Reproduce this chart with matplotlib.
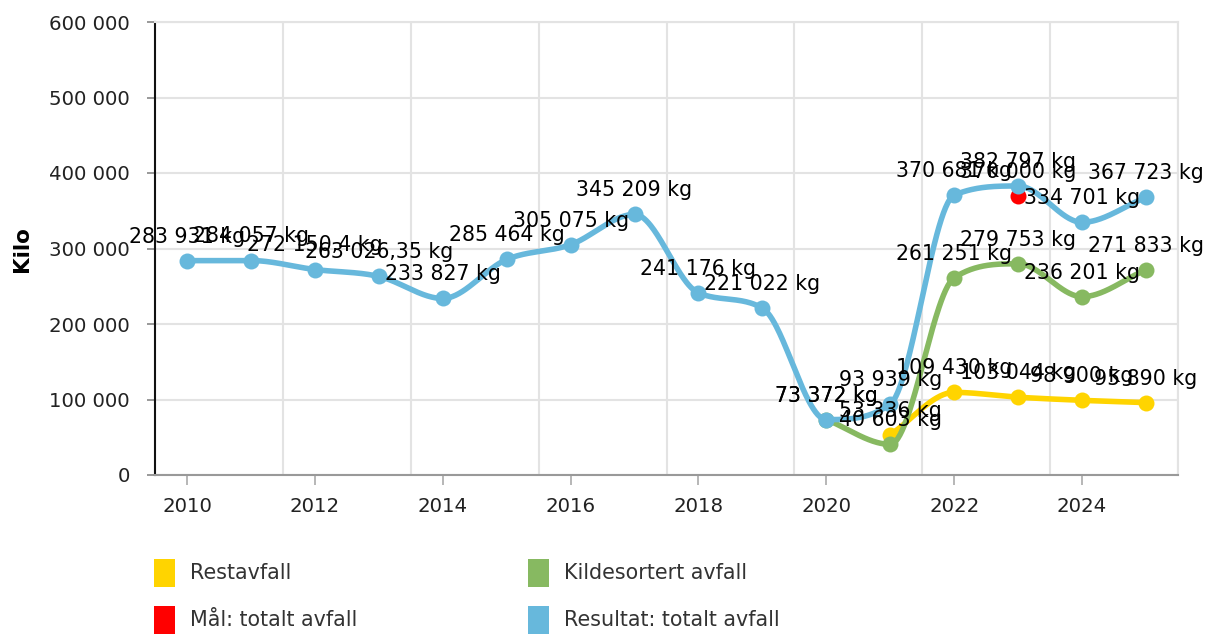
import numpy as np
import matplotlib
matplotlib.use("Agg")
import matplotlib.pyplot as plt
from matplotlib.patches import Rectangle

# data
years = list(range(2010, 2026))
resultat = [283931, 284057, 272150.4, 263026.35, 233827, 285464, 305075, 345209,
            241176, 221022, 73372, 93939, 370681, 382797, 334701, 367723]
kilde_years = [2020, 2021, 2022, 2023, 2024, 2025]
kildesortert = [73372, 40603, 261251, 279753, 236201, 271833]
rest_years = [2021, 2022, 2023, 2024, 2025]
restavfall = [53336, 109430, 103044, 98900, 95890]
maal_years = [2023]
maal = [370000]

legend_names = ["Restavfall", "Kildesortert avfall", "Mål: totalt avfall", "Resultat: totalt avfall"]
c_rest = "#ffd400"
c_kilde = "#87b961"
c_maal = "#ff0000"
c_res = "#67b8dc"


def fmt_kg(v):
    s = f"{v:,.2f}".rstrip("0").rstrip(".")
    return s.replace(",", " ").replace(".", ",") + " kg"


def monotone_curve(xs, ys, steps=60):
    """Monotone cubic (Fritsch-Carlson) line shape between the data points."""
    x = np.asarray(xs, float)
    y = np.asarray(ys, float)
    n = len(x)
    d = np.diff(y) / np.diff(x)
    m = np.zeros(n)
    m[0], m[-1] = d[0], d[-1]
    for i in range(1, n - 1):
        m[i] = 0 if np.sign(d[i - 1]) != np.sign(d[i]) else (d[i - 1] + d[i]) / 2
    for i in range(n - 1):
        if d[i] == 0:
            m[i] = m[i + 1] = 0
            continue
        a, b = m[i] / d[i], m[i + 1] / d[i]
        sq = a * a + b * b
        if sq > 9:
            tau = 3 / np.sqrt(sq)
            m[i] = a * tau * d[i]
            m[i + 1] = b * tau * d[i]
    t = np.linspace(0, 1, steps)
    cx, cy = [], []
    for i in range(n - 1):
        h = x[i + 1] - x[i]
        h00 = 2 * t ** 3 - 3 * t ** 2 + 1
        h10 = t ** 3 - 2 * t ** 2 + t
        h01 = -2 * t ** 3 + 3 * t ** 2
        h11 = t ** 3 - t ** 2
        cx.append(x[i] + h * t)
        cy.append(h00 * y[i] + h10 * h * m[i] + h01 * y[i + 1] + h11 * h * m[i + 1])
    return np.concatenate(cx), np.concatenate(cy)


fig = plt.figure(figsize=(12.07, 6.34), dpi=100)
ax = fig.add_axes([155 / 1207, 1 - 475 / 634, (1178 - 155) / 1207, (475 - 22) / 634])
ax.set_xlim(2009.5, 2025.5)
ax.set_ylim(0, 600000)

ax.set_yticks(np.arange(0, 600001, 100000))
ax.set_yticklabels([f"{v:,}".replace(",", " ") for v in range(0, 600001, 100000)])
ax.set_xticks(range(2010, 2026, 2))
ax.set_xticks(np.arange(2011.5, 2025.6, 2), minor=True)
ax.tick_params(axis="x", which="major", length=7, width=1.2, color="#aaaaaa",
               labelsize=14.2, labelcolor="#222222", pad=9)
ax.tick_params(axis="x", which="minor", length=0)
ax.tick_params(axis="y", length=6, width=1.2, color="#888888",
               labelsize=14.2, labelcolor="#222222", pad=12)
ax.grid(axis="y", color="#e3e3e3", linewidth=1.5)
ax.grid(axis="x", which="minor", color="#e3e3e3", linewidth=1.5)
for side in ["top", "right"]:
    ax.spines[side].set_color("#e3e3e3")
    ax.spines[side].set_linewidth(1.5)
ax.spines["left"].set_color("#111111")
ax.spines["left"].set_linewidth(1.5)
ax.spines["bottom"].set_color("#999999")
ax.spines["bottom"].set_linewidth(1.5)
ax.set_axisbelow(True)
fig.text(22 / 1207, 1 - 249 / 634, "Kilo", rotation=90, fontsize=15.5, fontweight="bold",
         ha="center", va="center")

lw = 4
ms = 11.5
series = [
    (rest_years, restavfall, c_rest),
    (kilde_years, kildesortert, c_kilde),
    (maal_years, maal, c_maal),
    (years, resultat, c_res),
]
for z, (xs, ys, col) in enumerate(series):
    if len(xs) > 1:
        cx, cy = monotone_curve(xs, ys)
        ax.plot(cx, cy, color=col, lw=lw, solid_capstyle="round", zorder=3 + z)
    ax.plot(xs, ys, "o", color=col, markersize=ms, markeredgewidth=0, zorder=3 + z)

for xs, ys, col in series:
    for x, y in zip(xs, ys):
        ax.annotate(fmt_kg(y), (x, y), xytext=(0, 13), textcoords="offset points",
                    ha="center", va="baseline", fontsize=14.8, color="#000000", zorder=10,
                    annotation_clip=False)

# legend drawn as boxes below the plot
leg_pos = [(154, 573), (528, 573), (154, 620), (528, 620)]
leg_cols = [c_rest, c_kilde, c_maal, c_res]
for name, col, (lx, ly) in zip(legend_names, leg_cols, leg_pos):
    fig.patches.append(Rectangle((lx / 1207, 1 - (ly + 14) / 634), 21 / 1207, 28 / 634,
                                 transform=fig.transFigure, facecolor=col, edgecolor="none"))
    fig.text((lx + 36) / 1207, 1 - ly / 634, name, fontsize=14.9, color="#333333",
             ha="left", va="center")

fig.savefig("out.png", dpi=100)
